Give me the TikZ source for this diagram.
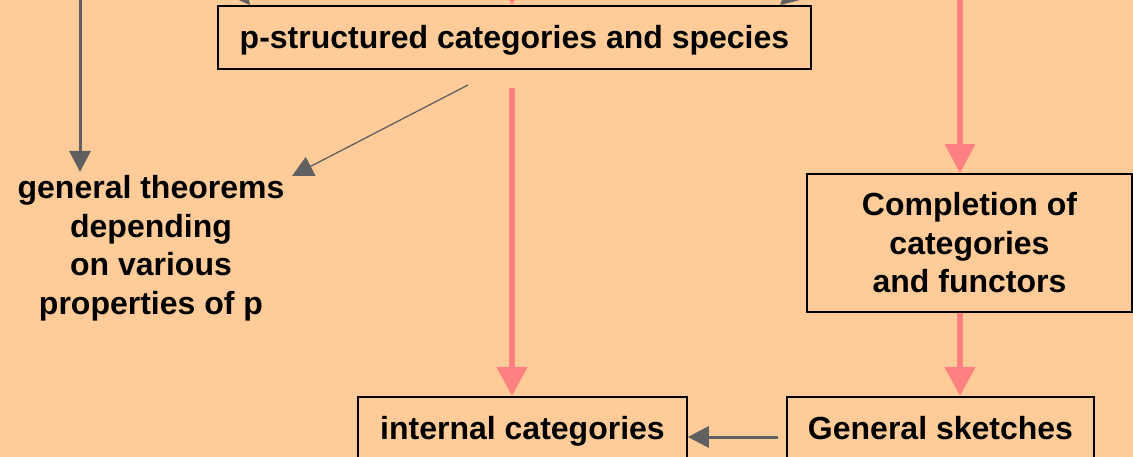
\documentclass[tikz,border=0pt]{standalone}
\usepackage{fontspec}
\setmainfont{Liberation Sans}
\usetikzlibrary{arrows.meta}
\definecolor{peach}{HTML}{FFCC99}
\definecolor{rosy}{HTML}{FF8080}
\definecolor{slate}{HTML}{606060}
\begin{document}
\begin{tikzpicture}[x=1pt,y=-1pt,
  lbl/.style={font=\bfseries\fontsize{32}{38.5}\selectfont, align=center, inner sep=0pt},
  box/.style={lbl, draw=black, line width=1.6pt, fill=peach},
  oneline/.style={text height=30pt, text depth=8pt},
  pinkarrow/.style={draw=rosy, line width=6.5pt, -{Triangle[length=29pt,width=29pt]}},
  greyarrow/.style={draw=slate, line width=3pt, -{Triangle[length=21pt,width=21pt]}},
  thinarrow/.style={draw=slate, line width=1.3pt, -{Triangle[length=21pt,width=21pt]}}]
\useasboundingbox (0,0) rectangle (1133,457);
\clip (0,0) rectangle (1133,457);
\fill[peach] (0,0) rectangle (1133,457);

% boxes
\node[box, oneline, minimum width=593pt, minimum height=63pt] (ps) at (514.5,37.5) {p-structured categories and species};
\node[box, minimum width=325pt, minimum height=138pt] (ct) at (969.5,243) {Completion of\\categories\\and functors};
\node[box, oneline, minimum width=329pt, minimum height=62pt] (ic) at (522.5,428) {internal categories};
\node[box, oneline, minimum width=307pt, minimum height=62pt] (sk) at (940.5,428) {General sketches};
\node[lbl] (gt) at (151,248) {general theorems\\depending\\on various\\properties of p};

% loose ends of connectors
\coordinate (l0) at (80,-40);
\coordinate (l1) at (80,172);
\coordinate (a0) at (215,-40);
\coordinate (b0) at (512,-40);
\coordinate (c0) at (830,-40);
\coordinate (r0) at (960,-40);
\coordinate (d0) at (468,85);
\coordinate (d1) at (292,176);
\coordinate (m0) at (512,88);
\coordinate (h0) at (778,437);

% connectors
\draw[greyarrow] (l0) -- (l1);
\draw[greyarrow] (a0) -- (ps.north -| 250,0);
\draw[pinkarrow] (b0) -- (ps.north -| 512,0);
\draw[greyarrow] (c0) -- (ps.north -| 780,0);
\draw[pinkarrow] (r0) -- (ct.north -| 960,0);
\draw[thinarrow] (d0) -- (d1);
\draw[pinkarrow] (m0) -- (ic.north -| 512,0);
\draw[pinkarrow] (ct.south -| 960,0) -- (sk.north -| 960,0);
\draw[greyarrow] (h0) -- (ic.east |- h0);
\end{tikzpicture}
\end{document}
